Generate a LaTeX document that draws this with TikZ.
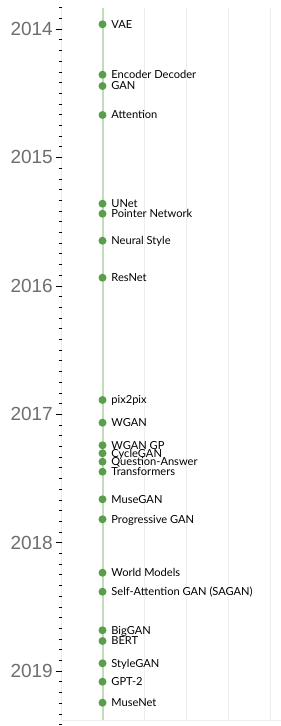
\documentclass[tikz,border=0pt]{standalone}
\usepackage{fontspec}
\setmainfont{Lato}
\newfontfamily\yearfont{Liberation Sans}
\usetikzlibrary{positioning}
\definecolor{dotgreen}{HTML}{5A9E4B}
\definecolor{linegreen}{HTML}{C3DDBC}
\definecolor{gridgray}{HTML}{EDEDED}
\definecolor{yeargray}{HTML}{6E6E6E}
\tikzset{
    evdot/.style = {
        circle,
        fill=dotgreen,
        inner sep=0pt,
        minimum size=8pt
    },
    evlabel/.style = {
        inner sep=0pt,
        anchor=west,
        text height=7.8pt,
        text depth=0pt,
        font=\fontsize{11.1}{11.1}\selectfont
    },
    yearlabel/.style = {
        anchor=east,
        inner sep=0pt,
        text=yeargray,
        font=\yearfont\fontsize{19}{19}\selectfont
    },
    gridline/.style = {
        draw=gridgray,
        line width=0.8pt
    }
}

\begin{document}
\begin{tikzpicture}[x=1pt, y=-1pt]
    \useasboundingbox (0,0) rectangle (281,726);

    % grid
    \foreach \gx in {61.5,144,186,228,270}
        \draw[gridline] (\gx,8) -- (\gx,720);
    \draw[gridline] (61.5,720) -- (281,720);

    % month ticks
    \foreach \m in {-2,...,68}
        \draw[black, line width=0.6pt] (58.5,29+\m*10.7) -- (61.5,29+\m*10.7);

    % years
    \foreach \yr [count=\i from 0] in {2014,...,2019} {
        \draw[black, line width=0.6pt] (55.5,29+\i*128.4) -- (61.5,29+\i*128.4);
        \node[yearlabel] (y\yr) at (53,29+\i*128.4) {\yr};
    }

    % timeline
    \coordinate (tltop) at (102.5,8);
    \coordinate (tlbot) at (102.5,720);
    \draw[draw=linegreen, line width=2pt] (tltop) -- (tlbot);

    % events
    \foreach \ey/\ename/\etext in {
        24.3/vae/VAE,
        74.7/encdec/Encoder Decoder,
        86/gan/GAN,
        115/attn/Attention,
        203.7/unet/UNet,
        213.7/pointer/Pointer Network,
        240.7/style/Neural Style,
        277.7/resnet/ResNet,
        400/pixpix/pix2pix,
        422.7/wgan/WGAN,
        445.3/wgangp/WGAN GP,
        453.3/cyclegan/CycleGAN,
        461.7/qa/Question-Answer,
        471.7/transf/Transformers,
        499.3/musegan/MuseGAN,
        519.3/progan/Progressive GAN,
        572.7/worldm/World Models,
        591.7/sagan/Self-Attention GAN (SAGAN),
        630.3/biggan/BigGAN,
        641/bert/BERT,
        663.3/stylegan/StyleGAN,
        681.7/gpttwo/GPT-2,
        702.7/musenet/MuseNet}
    {
        \node[evdot] (\ename) at (102.5,\ey) {};
        \node[evlabel, right=4.5pt of \ename] (\ename-l) {\etext};
    }
\end{tikzpicture}
\end{document}
